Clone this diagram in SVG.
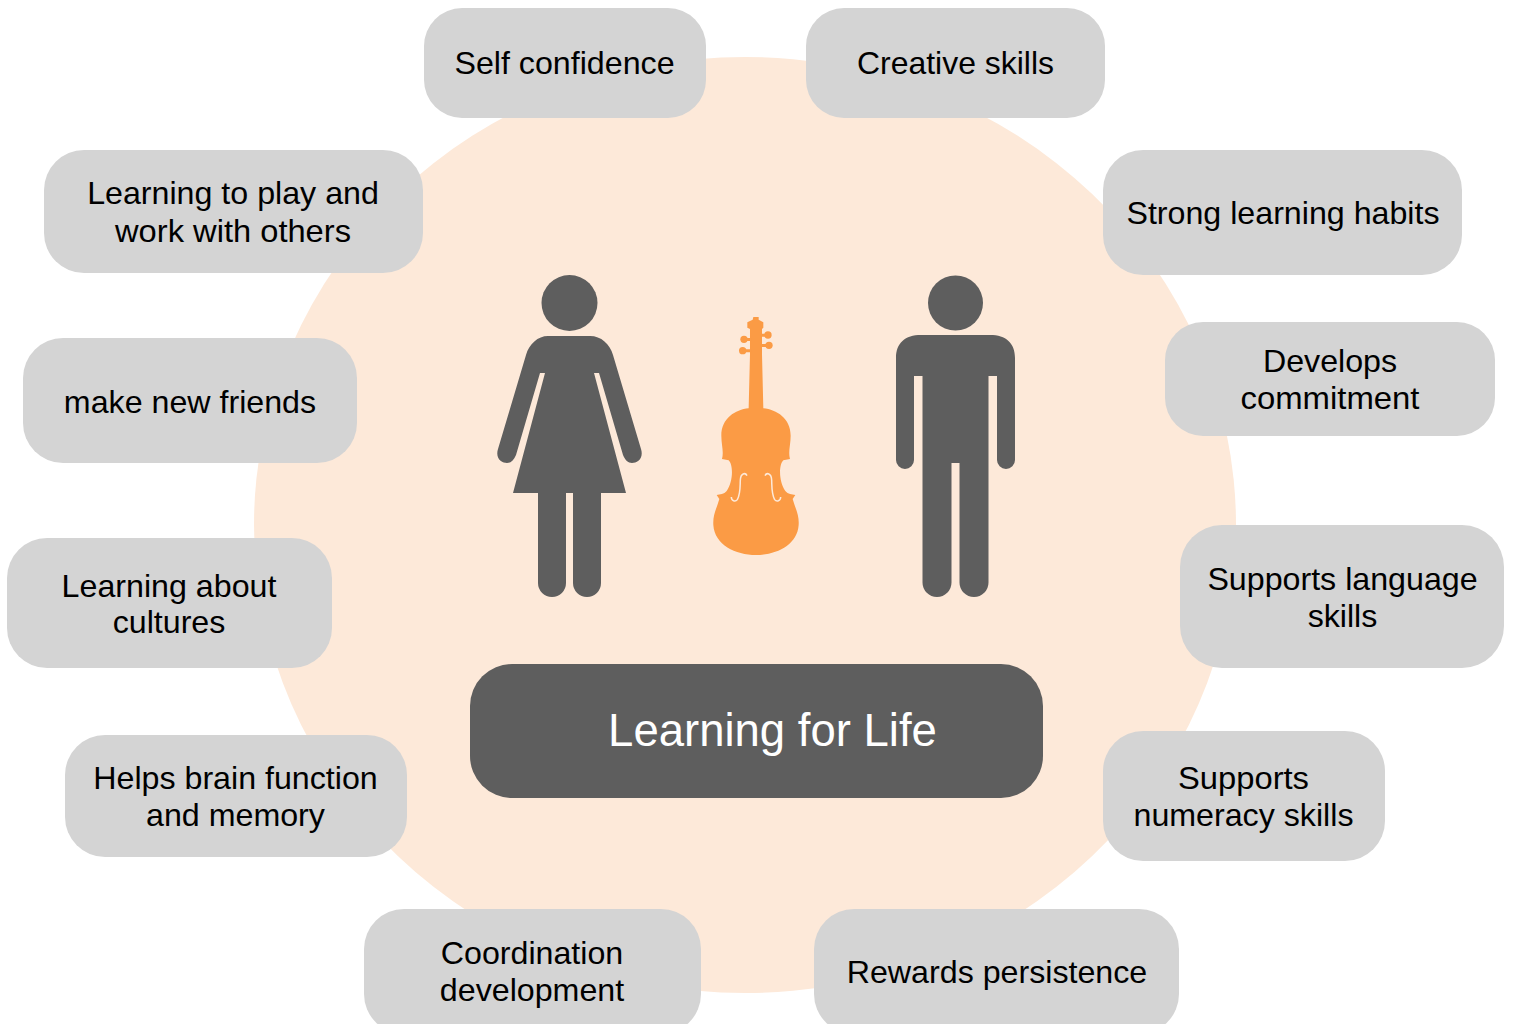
<svg xmlns="http://www.w3.org/2000/svg" width="1514" height="1024" viewBox="0 0 1514 1024">
<style>
.n{fill:#d4d4d4}
.t{font-family:"Liberation Sans",Arial,sans-serif;font-size:32.2px;fill:#000;text-anchor:middle}
.g{fill:#5e5e5e}
.v{fill:#fb9b45}
.f{fill:none;stroke:#fde9d9;stroke-width:4.5}
</style>
<rect width="1514" height="1024" fill="#fff"/>
<ellipse id="bg" cx="745" cy="525" rx="491" ry="468" fill="#fde9d9"/>
<g id="connectors"/>
<g id="n1"><rect class="n" x="424" y="8" width="282" height="110" rx="38"/><text class="t" x="564.500" y="73.500">Self confidence</text></g>
<g id="n2"><rect class="n" x="806" y="8" width="299" height="110" rx="38"/><text class="t" x="955.500" y="73.500" textLength="197" lengthAdjust="spacingAndGlyphs">Creative skills</text></g>
<g id="n3"><rect class="n" x="44" y="150" width="379" height="123" rx="40"/><text class="t" x="233" y="203.500">Learning to play and</text><text class="t" x="233" y="241.500" textLength="236" lengthAdjust="spacingAndGlyphs">work with others</text></g>
<g id="n4"><rect class="n" x="1103" y="150" width="359" height="125" rx="40"/><text class="t" x="1283" y="224">Strong learning habits</text></g>
<g id="n5"><rect class="n" x="23" y="338" width="334" height="125" rx="40"/><text class="t" x="190" y="413">make new friends</text></g>
<g id="n6"><rect class="n" x="1165" y="322" width="330" height="114" rx="38"/><text class="t" x="1330" y="372">Develops</text><text class="t" x="1330" y="409" textLength="179" lengthAdjust="spacingAndGlyphs">commitment</text></g>
<g id="n7"><rect class="n" x="7" y="538" width="325" height="130" rx="40"/><text class="t" x="169" y="596.500">Learning about</text><text class="t" x="169" y="633">cultures</text></g>
<g id="n8"><rect class="n" x="1180" y="525" width="324" height="143" rx="42"/><text class="t" x="1342.500" y="589.500">Supports language</text><text class="t" x="1342.500" y="627">skills</text></g>
<g id="n9"><rect class="n" x="65" y="735" width="342" height="122" rx="40"/><text class="t" x="235.500" y="788.500">Helps brain function</text><text class="t" x="235.500" y="826">and memory</text></g>
<g id="n10"><rect class="n" x="1103" y="731" width="282" height="130" rx="40"/><text class="t" x="1243.500" y="788.500" textLength="131" lengthAdjust="spacingAndGlyphs">Supports</text><text class="t" x="1243.500" y="826">numeracy skills</text></g>
<g id="n11"><rect class="n" x="364" y="909" width="337" height="125" rx="40"/><text class="t" x="532" y="963.500">Coordination</text><text class="t" x="532" y="1000.500">development</text></g>
<g id="n12"><rect class="n" x="814" y="909" width="365" height="125" rx="40"/><text class="t" x="997" y="982.500">Rewards persistence</text></g>
<g id="title"><rect class="g" x="470" y="664" width="573" height="134" rx="42"/><text x="772.500" y="746" font-family="'Liberation Sans',Arial,sans-serif" font-size="45.500" fill="#fff" text-anchor="middle">Learning for Life</text></g>
<g id="woman"><circle class="g" cx="569.500" cy="303" r="28"/>
<path class="g" d="M548 336H590C601 336 610 344 613 355L641 449C644 459 637 463 632 463C628 463 625 460 623 455L599 373H594L626 493H601V583A14 14 0 0 1 573 583V493H566V583A14 14 0 0 1 538 583V493H513L545 373H540L516 455C514 460 511 463 507 463C502 463 495 459 498 449L526 355C529 344 538 336 548 336Z"/></g>
<g id="man"><circle class="g" cx="955.500" cy="303" r="27.500"/>
<path class="g" d="M921 335H990C1006 335 1015 343 1015 358V460A9 9 0 0 1 997 460V376H988.500V582.500A14.500 14.500 0 0 1 959.500 582.500V463H951.500V582.500A14.500 14.500 0 0 1 922.500 582.500V376H914V460A9 9 0 0 1 896 460V358C896 343 905 335 921 335Z"/></g>
<g id="violin" transform="translate(700 305) scale(.3333)">
<path class="v" d="M160 36H176V44L190 52V68L186 72V148L190 310C230 314 272 340 272 392C272 420 264 440 270 462L250 466C236 480 236 530 256 558C264 568 276 568 286 570L278 582C286 610 298 630 296 660C292 720 230 750 168 750C106 750 44 720 40 660C38 630 50 610 58 582L50 570C60 568 72 568 80 558C100 530 100 480 86 466L66 462C72 440 64 420 64 392C64 340 106 314 146 310L150 148V72L142 68V52L158 44Z"/>
<circle class="v" cx="132" cy="103" r="11"/><circle class="v" cx="128" cy="137" r="11"/><circle class="v" cx="204" cy="90" r="11"/><circle class="v" cx="207" cy="121" r="11"/>
<path class="v" d="M132 99H155V108H132ZM128 133H155V142H128ZM182 86H204V95H182ZM182 117H207V126H182Z"/>
<path class="f" d="M141 512C136 502 122 504 121 525C120 545 122 565 112 584C106 592 94 588 94 576"/>
<path class="f" d="M195 512C200 502 214 504 215 525C216 545 214 565 224 584C230 592 242 588 242 576"/>
</g>
</svg>
